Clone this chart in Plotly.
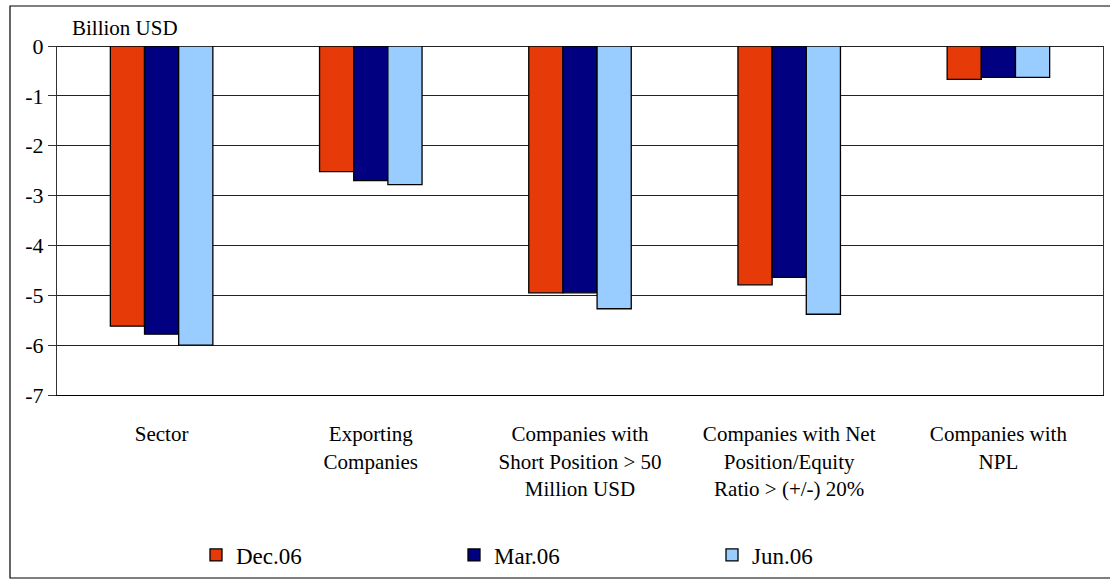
import plotly.graph_objects as go

# Categories (multi-line labels) and series values, billion USD
categories = [
    "Sector",
    "Exporting<br>Companies",
    "Companies with<br>Short Position > 50<br>Million USD",
    "Companies with Net<br>Position/Equity<br>Ratio > (+/-) 20%",
    "Companies with<br>NPL",
]
dec06 = [-5.62, -2.52, -4.95, -4.79, -0.67]
mar06 = [-5.78, -2.70, -4.95, -4.64, -0.63]
jun06 = [-6.00, -2.78, -5.27, -5.38, -0.63]

series_names = ["Dec.06", "Mar.06", "Jun.06"]
series_colors = ["#E63A08", "#000080", "#99CCFF"]

y_ticks = [0, -1, -2, -3, -4, -5, -6, -7]
y_tick_text = ["0", "-1", "-2", "-3", "-4", "-5", "-6", "-7"]

FONT = "Liberation Serif, Times New Roman, serif"

fig = go.Figure()
for name, vals, col in zip(series_names, [dec06, mar06, jun06], series_colors):
    fig.add_trace(go.Bar(
        x=categories, y=vals, name=name,
        marker=dict(color=col, line=dict(color="black", width=1.3)),
    ))

W, H = 1110, 583
ml, mr, mt, mb = 57, 7, 46, 188
pw, ph = W - ml - mr, H - mt - mb


def px_x(x):
    return (x - ml) / pw


def px_y(y):
    return (H - mb - y) / ph


fig.update_layout(
    width=W, height=H,
    margin=dict(l=ml, r=mr, t=mt, b=mb),
    paper_bgcolor="white", plot_bgcolor="white",
    barmode="group", bargap=0.51, bargroupgap=0,
    font=dict(family=FONT, color="black", size=20),
    showlegend=True,
    legend=dict(
        orientation="h", x=px_x(196), y=px_y(555),
        xanchor="left", yanchor="middle",
        font=dict(size=23, family=FONT, color="black"),
        entrywidth=213, entrywidthmode="pixels",
        bgcolor="rgba(0,0,0,0)", itemwidth=30,
    ),
    xaxis=dict(
        showgrid=False, showline=True, linecolor="black", linewidth=1,
        ticks="", ticklabelstandoff=20,
        tickfont=dict(size=21, family=FONT, color="black"),
        fixedrange=True,
    ),
    yaxis=dict(
        range=[-7, 0], tickvals=y_ticks, ticktext=y_tick_text,
        showgrid=True, gridcolor="#222222", gridwidth=1,
        zeroline=True, zerolinecolor="#222222", zerolinewidth=1,
        showline=True, linecolor="#333333", linewidth=1, mirror=True,
        ticks="outside", ticklen=8, tickcolor="#333333",
        tickfont=dict(size=22, family=FONT, color="black"),
        fixedrange=True,
    ),
    annotations=[dict(
        text="Billion USD", xref="paper", yref="paper",
        x=px_x(70), y=px_y(28), xanchor="left", yanchor="middle",
        showarrow=False, font=dict(size=21, family=FONT, color="black"),
    )],
    shapes=[dict(
        type="rect", xref="paper", yref="paper",
        x0=px_x(10), x1=px_x(1120), y0=px_y(578), y1=px_y(6),
        line=dict(color="black", width=1.2), fillcolor="rgba(0,0,0,0)",
        layer="below",
    )],
)

fig.write_html("out.html")
